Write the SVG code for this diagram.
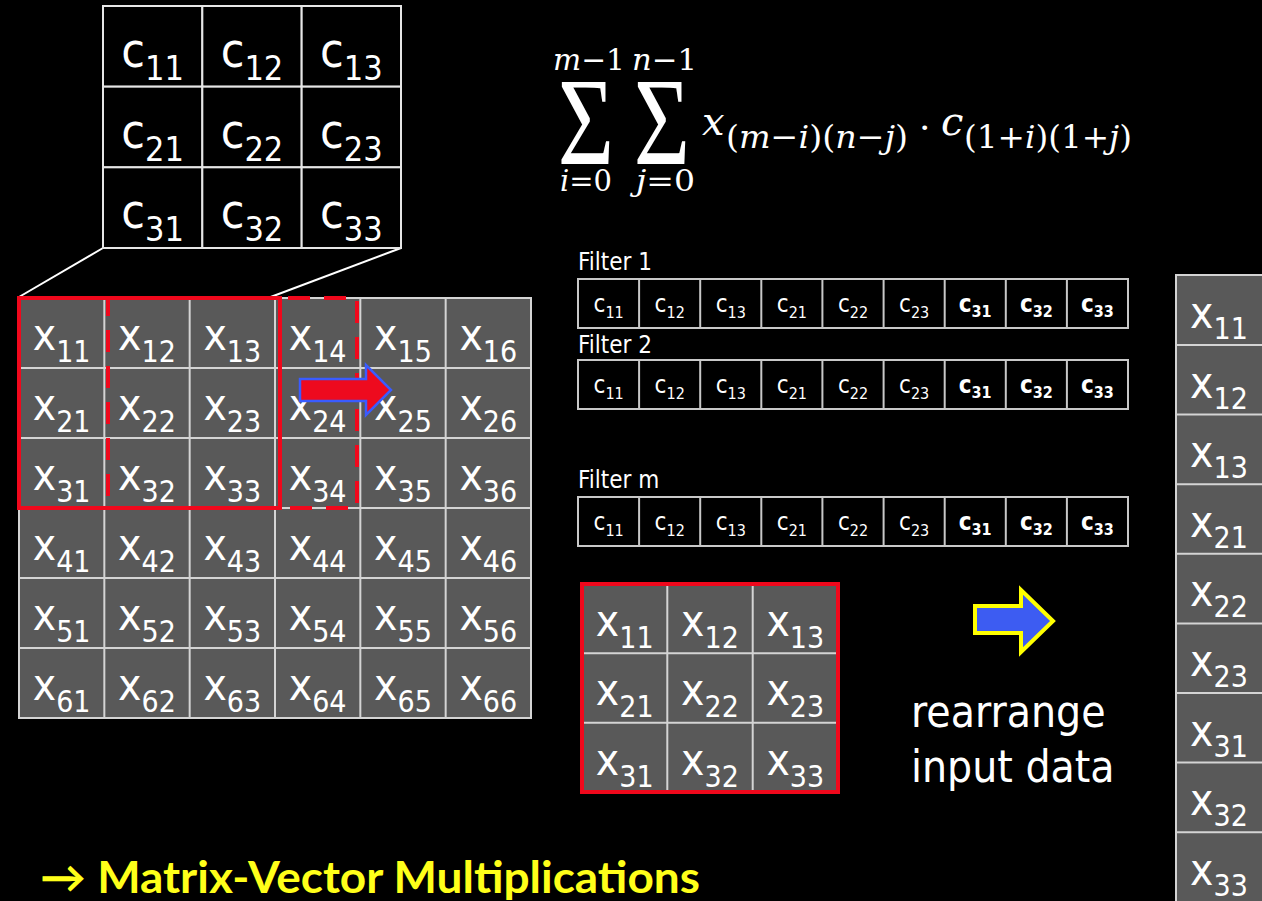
<svg xmlns="http://www.w3.org/2000/svg" width="1262" height="901" viewBox="0 0 1262 901">
<defs>
<style>
.t{font-family:"DejaVu Sans Condensed","DejaVu Sans","Open Sans",sans-serif;fill:#ffffff;text-anchor:middle}
.gx{font-size:44px}
.gs{font-size:30px}
.cx{font-size:48px}
.cs{font-size:34px}
.fx{font-size:24px}
.fs{font-size:16px}
.fb{font-weight:bold}
.lbl{font-family:"DejaVu Sans Condensed","DejaVu Sans","Open Sans",sans-serif;fill:#ffffff;font-size:24px}
.big{font-family:"DejaVu Sans Condensed","DejaVu Sans","Open Sans",sans-serif;fill:#ffffff;font-size:44px}
.m{font-family:"DejaVu Serif","Liberation Serif",serif;fill:#ffffff}
.sig{font-family:"Liberation Serif","DejaVu Serif",serif;fill:#ffffff}
.it{font-style:italic}
.ccell{fill:#000000;stroke:#e6e6e6;stroke-width:2}
.fcell{fill:#000000;stroke:#c8c8c8;stroke-width:2}
.red{fill:none;stroke:#f0081c;stroke-width:4}
</style>
</defs>
<rect x="0" y="0" width="1262" height="901" fill="#000000"/>

<g id="connectors" stroke="#ffffff" stroke-width="2" fill="none">
<line x1="103" y1="248" x2="19" y2="297"/>
<line x1="401" y1="248" x2="268" y2="298"/>
</g>

<g id="c-matrix">
<rect class="ccell" x="103" y="6" width="99.33" height="80.67"/>
<rect class="ccell" x="202.33" y="6" width="99.33" height="80.67"/>
<rect class="ccell" x="301.67" y="6" width="99.33" height="80.67"/>
<rect class="ccell" x="103" y="86.67" width="99.33" height="80.67"/>
<rect class="ccell" x="202.33" y="86.67" width="99.33" height="80.67"/>
<rect class="ccell" x="301.67" y="86.67" width="99.33" height="80.67"/>
<rect class="ccell" x="103" y="167.33" width="99.33" height="80.67"/>
<rect class="ccell" x="202.33" y="167.33" width="99.33" height="80.67"/>
<rect class="ccell" x="301.67" y="167.33" width="99.33" height="80.67"/>
<text class="t cx" x="152.7" y="67">c<tspan class="cs" dy="13">11</tspan></text>
<text class="t cx" x="252" y="67">c<tspan class="cs" dy="13">12</tspan></text>
<text class="t cx" x="351.3" y="67">c<tspan class="cs" dy="13">13</tspan></text>
<text class="t cx" x="152.7" y="148">c<tspan class="cs" dy="13">21</tspan></text>
<text class="t cx" x="252" y="148">c<tspan class="cs" dy="13">22</tspan></text>
<text class="t cx" x="351.3" y="148">c<tspan class="cs" dy="13">23</tspan></text>
<text class="t cx" x="152.7" y="228">c<tspan class="cs" dy="13">31</tspan></text>
<text class="t cx" x="252" y="228">c<tspan class="cs" dy="13">32</tspan></text>
<text class="t cx" x="351.3" y="228">c<tspan class="cs" dy="13">33</tspan></text>
</g>

<g id="x-grid">
<rect x="19" y="298" width="512" height="420" fill="#595959"/>
<g stroke="#d4d4d4" stroke-width="2" fill="none">
<rect x="19" y="298" width="512" height="420"/>
<line x1="104.33" y1="298" x2="104.33" y2="718"/>
<line x1="189.67" y1="298" x2="189.67" y2="718"/>
<line x1="275" y1="298" x2="275" y2="718"/>
<line x1="360.33" y1="298" x2="360.33" y2="718"/>
<line x1="445.67" y1="298" x2="445.67" y2="718"/>
<line x1="19" y1="368" x2="531" y2="368"/>
<line x1="19" y1="438" x2="531" y2="438"/>
<line x1="19" y1="508" x2="531" y2="508"/>
<line x1="19" y1="578" x2="531" y2="578"/>
<line x1="19" y1="648" x2="531" y2="648"/>
</g>
<text class="t gx" x="61.67" y="350">x<tspan class="gs" dy="12">11</tspan></text>
<text class="t gx" x="147" y="350">x<tspan class="gs" dy="12">12</tspan></text>
<text class="t gx" x="232.33" y="350">x<tspan class="gs" dy="12">13</tspan></text>
<text class="t gx" x="317.67" y="350">x<tspan class="gs" dy="12">14</tspan></text>
<text class="t gx" x="403" y="350">x<tspan class="gs" dy="12">15</tspan></text>
<text class="t gx" x="488.33" y="350">x<tspan class="gs" dy="12">16</tspan></text>
<text class="t gx" x="61.67" y="420">x<tspan class="gs" dy="12">21</tspan></text>
<text class="t gx" x="147" y="420">x<tspan class="gs" dy="12">22</tspan></text>
<text class="t gx" x="232.33" y="420">x<tspan class="gs" dy="12">23</tspan></text>
<text class="t gx" x="317.67" y="420">x<tspan class="gs" dy="12">24</tspan></text>
<text class="t gx" x="403" y="420">x<tspan class="gs" dy="12">25</tspan></text>
<text class="t gx" x="488.33" y="420">x<tspan class="gs" dy="12">26</tspan></text>
<text class="t gx" x="61.67" y="490">x<tspan class="gs" dy="12">31</tspan></text>
<text class="t gx" x="147" y="490">x<tspan class="gs" dy="12">32</tspan></text>
<text class="t gx" x="232.33" y="490">x<tspan class="gs" dy="12">33</tspan></text>
<text class="t gx" x="317.67" y="490">x<tspan class="gs" dy="12">34</tspan></text>
<text class="t gx" x="403" y="490">x<tspan class="gs" dy="12">35</tspan></text>
<text class="t gx" x="488.33" y="490">x<tspan class="gs" dy="12">36</tspan></text>
<text class="t gx" x="61.67" y="560">x<tspan class="gs" dy="12">41</tspan></text>
<text class="t gx" x="147" y="560">x<tspan class="gs" dy="12">42</tspan></text>
<text class="t gx" x="232.33" y="560">x<tspan class="gs" dy="12">43</tspan></text>
<text class="t gx" x="317.67" y="560">x<tspan class="gs" dy="12">44</tspan></text>
<text class="t gx" x="403" y="560">x<tspan class="gs" dy="12">45</tspan></text>
<text class="t gx" x="488.33" y="560">x<tspan class="gs" dy="12">46</tspan></text>
<text class="t gx" x="61.67" y="630">x<tspan class="gs" dy="12">51</tspan></text>
<text class="t gx" x="147" y="630">x<tspan class="gs" dy="12">52</tspan></text>
<text class="t gx" x="232.33" y="630">x<tspan class="gs" dy="12">53</tspan></text>
<text class="t gx" x="317.67" y="630">x<tspan class="gs" dy="12">54</tspan></text>
<text class="t gx" x="403" y="630">x<tspan class="gs" dy="12">55</tspan></text>
<text class="t gx" x="488.33" y="630">x<tspan class="gs" dy="12">56</tspan></text>
<text class="t gx" x="61.67" y="700">x<tspan class="gs" dy="12">61</tspan></text>
<text class="t gx" x="147" y="700">x<tspan class="gs" dy="12">62</tspan></text>
<text class="t gx" x="232.33" y="700">x<tspan class="gs" dy="12">63</tspan></text>
<text class="t gx" x="317.67" y="700">x<tspan class="gs" dy="12">64</tspan></text>
<text class="t gx" x="403" y="700">x<tspan class="gs" dy="12">65</tspan></text>
<text class="t gx" x="488.33" y="700">x<tspan class="gs" dy="12">66</tspan></text>
</g>

<g id="window-current">
<rect class="red" x="19" y="298" width="261" height="210"/>
</g>
<g id="window-next">
<rect class="red" x="108" y="298" width="249" height="210" stroke-dasharray="22 14"/>
</g>
<g id="slide-arrow">
<polygon points="300,379 366,379 366,365 391,390 366,415 366,401 300,401" fill="#ee0a1e" stroke="#3a5cff" stroke-width="2.5"/>
</g>

<g id="formula">
<text class="m" x="553" y="70" font-size="30" textLength="72" lengthAdjust="spacingAndGlyphs"><tspan class="it">m</tspan>−1</text>
<text class="m" x="632" y="70" font-size="30" textLength="65" lengthAdjust="spacingAndGlyphs"><tspan class="it">n</tspan>−1</text>
<text class="sig" font-size="124" transform="translate(586,164) scale(0.78,1)" text-anchor="middle">Σ</text>
<text class="sig" font-size="124" transform="translate(662,164) scale(0.78,1)" text-anchor="middle">Σ</text>
<text class="m" x="560" y="191" font-size="30" textLength="52" lengthAdjust="spacingAndGlyphs"><tspan class="it">i</tspan>=0</text>
<text class="m" x="636" y="191" font-size="30" textLength="59" lengthAdjust="spacingAndGlyphs"><tspan class="it">j</tspan>=0</text>
<text class="m it" x="702" y="135" font-size="40">x</text>
<text class="m" x="726" y="148" font-size="32" textLength="182" lengthAdjust="spacingAndGlyphs">(<tspan class="it">m</tspan>−<tspan class="it">i</tspan>)(<tspan class="it">n</tspan>−<tspan class="it">j</tspan>)</text>
<text class="m" x="919" y="140" font-size="36">·</text>
<text class="m it" x="941" y="135" font-size="40">c</text>
<text class="m" x="964" y="148" font-size="32" textLength="168" lengthAdjust="spacingAndGlyphs">(1+<tspan class="it">i</tspan>)(1+<tspan class="it">j</tspan>)</text>
</g>

<g id="filter-1">
<text class="lbl" x="578" y="270">Filter 1</text>
<rect class="fcell" x="578" y="279" width="550" height="49"/>
<g stroke="#c8c8c8" stroke-width="2">
<line x1="639.1" y1="279" x2="639.1" y2="328"/><line x1="700.2" y1="279" x2="700.2" y2="328"/><line x1="761.3" y1="279" x2="761.3" y2="328"/><line x1="822.4" y1="279" x2="822.4" y2="328"/><line x1="883.6" y1="279" x2="883.6" y2="328"/><line x1="944.7" y1="279" x2="944.7" y2="328"/><line x1="1005.8" y1="279" x2="1005.8" y2="328"/><line x1="1066.9" y1="279" x2="1066.9" y2="328"/>
</g>
<text class="t fx" x="608.6" y="312">c<tspan class="fs" dy="6">11</tspan></text>
<text class="t fx" x="669.7" y="312">c<tspan class="fs" dy="6">12</tspan></text>
<text class="t fx" x="730.8" y="312">c<tspan class="fs" dy="6">13</tspan></text>
<text class="t fx" x="791.9" y="312">c<tspan class="fs" dy="6">21</tspan></text>
<text class="t fx" x="853" y="312">c<tspan class="fs" dy="6">22</tspan></text>
<text class="t fx" x="914.1" y="312">c<tspan class="fs" dy="6">23</tspan></text>
<text class="t fx fb" x="975.2" y="312">c<tspan class="fs" dy="5">31</tspan></text>
<text class="t fx fb" x="1036.3" y="312">c<tspan class="fs" dy="5">32</tspan></text>
<text class="t fx fb" x="1097.4" y="312">c<tspan class="fs" dy="5">33</tspan></text>
</g>

<g id="filter-2">
<text class="lbl" x="578" y="353">Filter 2</text>
<rect class="fcell" x="578" y="360" width="550" height="49"/>
<g stroke="#c8c8c8" stroke-width="2">
<line x1="639.1" y1="360" x2="639.1" y2="409"/><line x1="700.2" y1="360" x2="700.2" y2="409"/><line x1="761.3" y1="360" x2="761.3" y2="409"/><line x1="822.4" y1="360" x2="822.4" y2="409"/><line x1="883.6" y1="360" x2="883.6" y2="409"/><line x1="944.7" y1="360" x2="944.7" y2="409"/><line x1="1005.8" y1="360" x2="1005.8" y2="409"/><line x1="1066.9" y1="360" x2="1066.9" y2="409"/>
</g>
<text class="t fx" x="608.6" y="393">c<tspan class="fs" dy="6">11</tspan></text>
<text class="t fx" x="669.7" y="393">c<tspan class="fs" dy="6">12</tspan></text>
<text class="t fx" x="730.8" y="393">c<tspan class="fs" dy="6">13</tspan></text>
<text class="t fx" x="791.9" y="393">c<tspan class="fs" dy="6">21</tspan></text>
<text class="t fx" x="853" y="393">c<tspan class="fs" dy="6">22</tspan></text>
<text class="t fx" x="914.1" y="393">c<tspan class="fs" dy="6">23</tspan></text>
<text class="t fx fb" x="975.2" y="393">c<tspan class="fs" dy="5">31</tspan></text>
<text class="t fx fb" x="1036.3" y="393">c<tspan class="fs" dy="5">32</tspan></text>
<text class="t fx fb" x="1097.4" y="393">c<tspan class="fs" dy="5">33</tspan></text>
</g>

<g id="filter-m">
<text class="lbl" x="578" y="488">Filter m</text>
<rect class="fcell" x="578" y="497" width="550" height="49"/>
<g stroke="#c8c8c8" stroke-width="2">
<line x1="639.1" y1="497" x2="639.1" y2="546"/><line x1="700.2" y1="497" x2="700.2" y2="546"/><line x1="761.3" y1="497" x2="761.3" y2="546"/><line x1="822.4" y1="497" x2="822.4" y2="546"/><line x1="883.6" y1="497" x2="883.6" y2="546"/><line x1="944.7" y1="497" x2="944.7" y2="546"/><line x1="1005.8" y1="497" x2="1005.8" y2="546"/><line x1="1066.9" y1="497" x2="1066.9" y2="546"/>
</g>
<text class="t fx" x="608.6" y="530">c<tspan class="fs" dy="6">11</tspan></text>
<text class="t fx" x="669.7" y="530">c<tspan class="fs" dy="6">12</tspan></text>
<text class="t fx" x="730.8" y="530">c<tspan class="fs" dy="6">13</tspan></text>
<text class="t fx" x="791.9" y="530">c<tspan class="fs" dy="6">21</tspan></text>
<text class="t fx" x="853" y="530">c<tspan class="fs" dy="6">22</tspan></text>
<text class="t fx" x="914.1" y="530">c<tspan class="fs" dy="6">23</tspan></text>
<text class="t fx fb" x="975.2" y="530">c<tspan class="fs" dy="5">31</tspan></text>
<text class="t fx fb" x="1036.3" y="530">c<tspan class="fs" dy="5">32</tspan></text>
<text class="t fx fb" x="1097.4" y="530">c<tspan class="fs" dy="5">33</tspan></text>
</g>

<g id="patch">
<rect x="582" y="584" width="256" height="208" fill="#595959"/>
<g stroke="#d4d4d4" stroke-width="2">
<line x1="667.3" y1="584" x2="667.3" y2="792"/>
<line x1="752.7" y1="584" x2="752.7" y2="792"/>
<line x1="582" y1="653.3" x2="838" y2="653.3"/>
<line x1="582" y1="722.7" x2="838" y2="722.7"/>
</g>
<rect class="red" x="582" y="584" width="256" height="208"/>
<text class="t gx" x="624.7" y="636">x<tspan class="gs" dy="12">11</tspan></text>
<text class="t gx" x="710" y="636">x<tspan class="gs" dy="12">12</tspan></text>
<text class="t gx" x="795.3" y="636">x<tspan class="gs" dy="12">13</tspan></text>
<text class="t gx" x="624.7" y="705.3">x<tspan class="gs" dy="12">21</tspan></text>
<text class="t gx" x="710" y="705.3">x<tspan class="gs" dy="12">22</tspan></text>
<text class="t gx" x="795.3" y="705.3">x<tspan class="gs" dy="12">23</tspan></text>
<text class="t gx" x="624.7" y="774.7">x<tspan class="gs" dy="12">31</tspan></text>
<text class="t gx" x="710" y="774.7">x<tspan class="gs" dy="12">32</tspan></text>
<text class="t gx" x="795.3" y="774.7">x<tspan class="gs" dy="12">33</tspan></text>
</g>

<g id="rearrange-arrow">
<polygon points="975,606 1021,606 1021,590 1053,621 1021,652 1021,633 975,633" fill="#3d5cf2" stroke="#ffff00" stroke-width="4"/>
</g>
<g id="rearrange-label">
<text class="big" x="911" y="727">rearrange</text>
<text class="big" x="911" y="782">input data</text>
</g>

<g id="x-vector">
<rect x="1176" y="275" width="100" height="640" fill="#595959" stroke="#d4d4d4" stroke-width="2"/>
<g stroke="#d4d4d4" stroke-width="2">
<line x1="1176" y1="345" x2="1262" y2="345"/>
<line x1="1176" y1="414.6" x2="1262" y2="414.6"/>
<line x1="1176" y1="484.2" x2="1262" y2="484.2"/>
<line x1="1176" y1="553.8" x2="1262" y2="553.8"/>
<line x1="1176" y1="623.4" x2="1262" y2="623.4"/>
<line x1="1176" y1="693" x2="1262" y2="693"/>
<line x1="1176" y1="762.6" x2="1262" y2="762.6"/>
<line x1="1176" y1="832.2" x2="1262" y2="832.2"/>
</g>
<text class="t gx" x="1219" y="328">x<tspan class="gs" dy="11">11</tspan></text>
<text class="t gx" x="1219" y="397.6">x<tspan class="gs" dy="11">12</tspan></text>
<text class="t gx" x="1219" y="467.2">x<tspan class="gs" dy="11">13</tspan></text>
<text class="t gx" x="1219" y="536.8">x<tspan class="gs" dy="11">21</tspan></text>
<text class="t gx" x="1219" y="606.4">x<tspan class="gs" dy="11">22</tspan></text>
<text class="t gx" x="1219" y="676">x<tspan class="gs" dy="11">23</tspan></text>
<text class="t gx" x="1219" y="745.6">x<tspan class="gs" dy="11">31</tspan></text>
<text class="t gx" x="1219" y="815.2">x<tspan class="gs" dy="11">32</tspan></text>
<text class="t gx" x="1219" y="884.8">x<tspan class="gs" dy="11">33</tspan></text>
</g>

<g id="conclusion">
<text x="40" y="893" font-family="Lato,'Open Sans',sans-serif" font-weight="bold" font-size="44" fill="#ffff1a" textLength="660" lengthAdjust="spacingAndGlyphs">→ Matrix-Vector Multiplications</text>
</g>
</svg>
